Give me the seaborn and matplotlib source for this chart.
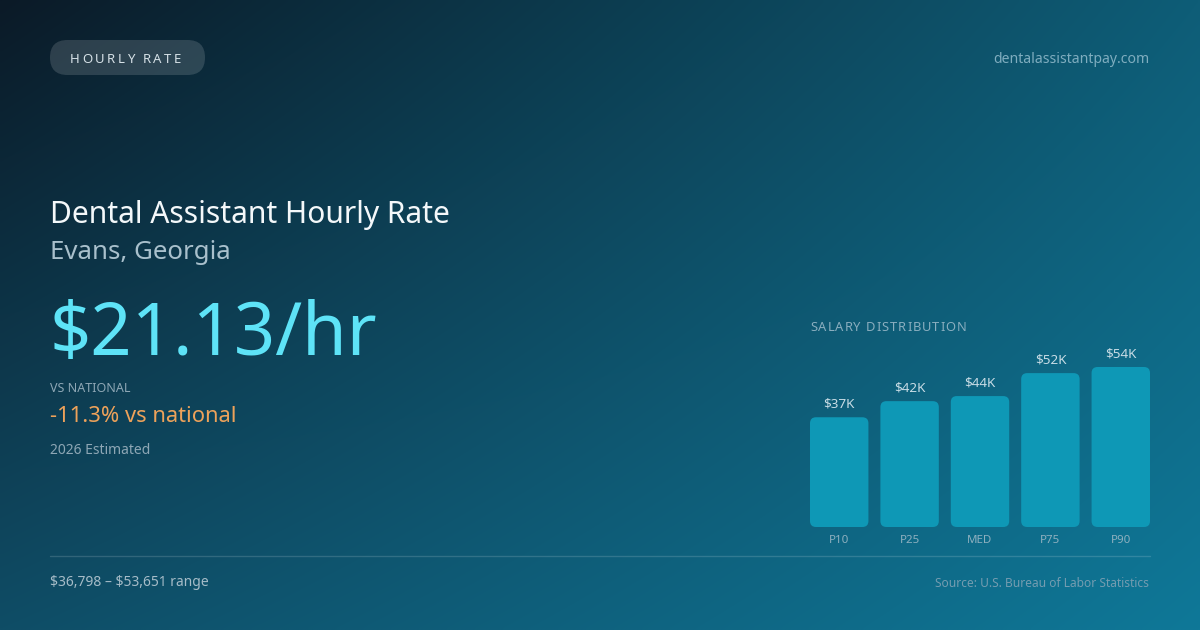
import numpy as np
import matplotlib
matplotlib.use("Agg")
import matplotlib.pyplot as plt
import seaborn as sns
from matplotlib.patches import FancyBboxPatch

# data
categories = ["P10", "P25", "MED", "P75", "P90"]
salaries = [36798, 42200, 43900, 51600, 53651]
hourly_rate = 21.13
vs_national = -11.3
year_label = "2026 Estimated"

sns.set_theme(style="white")
plt.rcParams["font.family"] = ["Noto Sans", "DejaVu Sans"]
plt.rcParams["text.parse_math"] = False

W, H = 1200, 630
fig = plt.figure(figsize=(12, 6.3), dpi=100)

# background gradient (bilinear between the four corners)
tl = np.array([11, 26, 39]) / 255
tr = np.array([14, 93, 119]) / 255
bl = np.array([15, 77, 102]) / 255
br = np.array([15, 120, 152]) / 255
u = np.linspace(0, 1, 300)[None, :, None]
v = np.linspace(0, 1, 160)[:, None, None]
grad = (tl * (1 - u) * (1 - v) + tr * u * (1 - v) + bl * (1 - u) * v + br * u * v)

ax_bg = fig.add_axes([0, 0, 1, 1])
ax_bg.imshow(grad, extent=(0, W, H, 0), aspect="auto", interpolation="bilinear", zorder=0)
ax_bg.set_xlim(0, W)
ax_bg.set_ylim(H, 0)
ax_bg.axis("off")

renderer = fig.canvas.get_renderer()


def spaced_text(x, y, s, track, **kw):
    # matplotlib has no letter-spacing, so place characters one by one
    for ch in s:
        t = ax_bg.text(x, y, ch, **kw)
        w = t.get_window_extent(renderer=renderer).width
        if ch == " ":
            w = kw.get("fontsize", 10) / 0.72 * 0.26
        x += w + track


# badge
pill = FancyBboxPatch((50, 40), 155, 35, boxstyle="round,pad=0,rounding_size=17.5",
                      fc=(1, 1, 1, 0.14), ec="none", zorder=1)
ax_bg.add_patch(pill)
spaced_text(70, 63, "HOURLY RATE", 2.4, fontsize=9.5, color="#d5e0e6", va="baseline", zorder=2)

ax_bg.text(1149, 63, "dentalassistantpay.com", fontsize=10.1, color="#7fadbf",
           ha="right", va="baseline")

# headline block
ax_bg.text(50, 223, "Dental Assistant Hourly Rate", fontsize=21.6, color="#f4f8fa", va="baseline")
ax_bg.text(50, 259, "Evans, Georgia", fontsize=18.6, color="#a9c0cc", va="baseline")
ax_bg.text(50, 355, f"${hourly_rate:.2f}/hr", fontsize=52, color="#5ee3f7", va="baseline")
ax_bg.text(50, 392, "VS NATIONAL", fontsize=9, color="#8ea7b5", va="baseline")
ax_bg.text(50, 422, f"{vs_national:.1f}% vs national", fontsize=15.8, color="#eda25a", va="baseline")
ax_bg.text(50, 454, year_label, fontsize=10, color="#8ea7b5", va="baseline")

# footer
ax_bg.plot([50, 1150], [556, 556], color=(1, 1, 1, 0.15), lw=1)
ax_bg.text(50, 586, f"${min(salaries):,} \u2013 ${max(salaries):,} range", fontsize=10,
           color="#a6bcc8", va="baseline")
ax_bg.text(1149, 587, "Source: U.S. Bureau of Labor Statistics", fontsize=8.6,
           color="#749cb0", ha="right", va="baseline")

spaced_text(810, 331, "SALARY DISTRIBUTION", 1.0, fontsize=9.3, color="#8aaebf", va="baseline")

# bar chart
bw = 0.83
ax = fig.add_axes([810 / W, 1 - 527 / H, 340 / W, 160 / H])
ax.patch.set_alpha(0)
sns.barplot(x=categories, y=salaries, ax=ax, color="#0e98b6", saturation=1, width=bw)
ax.set_xlim(-bw / 2, len(categories) - 1 + bw / 2)
ax.set_ylim(0, max(salaries))
ax.bar_label(ax.containers[0], labels=[f"${s / 1000:.0f}K" for s in salaries],
             padding=5, fontsize=9.7, color="#c8dce5")

# swap plain rectangles for rounded ones
px_x = 340 / (len(categories) - 1 + bw)
px_y = 160 / max(salaries)
r = 6 / px_x
for rect in list(ax.patches):
    fb = FancyBboxPatch((rect.get_x(), rect.get_y()), rect.get_width(), rect.get_height(),
                        boxstyle=f"round,pad=0,rounding_size={r}",
                        mutation_aspect=px_x / px_y, fc=rect.get_facecolor(), ec="none")
    rect.remove()
    ax.add_patch(fb)

for s in ax.spines.values():
    s.set_visible(False)
ax.set_yticks([])
ax.set_xlabel("")
ax.set_ylabel("")
ax.tick_params(axis="x", length=0, pad=6, labelsize=8.3, labelcolor="#8eb0bf")

fig.savefig("out.png", dpi=100)
